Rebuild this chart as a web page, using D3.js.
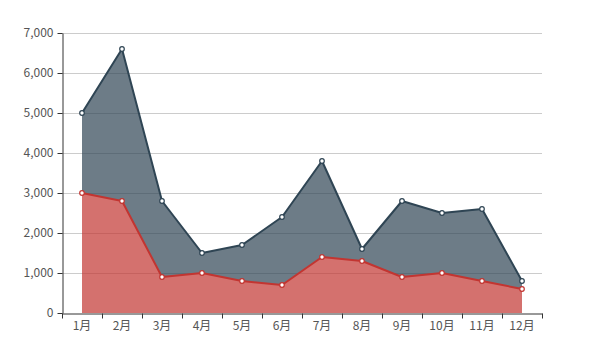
<!DOCTYPE html>
<html><head><meta charset="utf-8">
<script src="https://cdn.jsdelivr.net/npm/d3@7"></script>
<style>body{margin:0;background:#fff}svg{display:block}</style>
</head><body>
<svg id="c" width="608" height="358"></svg>
<script>
const months = ["1月","2月","3月","4月","5月","6月","7月","8月","9月","10月","11月","12月"];
const seriesA = [5000,6600,2800,1500,1700,2400,3800,1600,2800,2500,2600,800];
const seriesB = [3000,2800,900,1000,800,700,1400,1300,900,1000,800,600];
const yTicks = [0,1000,2000,3000,4000,5000,6000,7000];

const W=608,H=358, m={l:62,r:66,t:33,b:45};
const svg=d3.select("#c");
const font="'Microsoft YaHei','Noto Sans CJK SC',sans-serif";
const x=d3.scaleBand().domain(months).range([m.l,W-m.r]);
const y=d3.scaleLinear().domain([0,7000]).range([H-m.b,m.t]);
const cx=d=>x(d)+x.bandwidth()/2;

// grid
svg.append("g").selectAll("line").data(yTicks.slice(1)).join("line")
  .attr("x1",m.l).attr("x2",W-m.r).attr("y1",d=>Math.round(y(d))+0.5).attr("y2",d=>Math.round(y(d))+0.5)
  .attr("stroke","#ccc").attr("stroke-width",1);

const idx=d3.range(months.length);
const areaA=d3.area().x(i=>cx(months[i])).y0(i=>y(seriesB[i])).y1(i=>y(seriesA[i]));
const areaB=d3.area().x(i=>cx(months[i])).y0(y(0)).y1(i=>y(seriesB[i]));
svg.append("path").attr("d",areaA(idx)).attr("fill","#2f4554").attr("fill-opacity",0.7);
svg.append("path").attr("d",areaB(idx)).attr("fill","#c23531").attr("fill-opacity",0.7);

const lineA=d3.line().x(i=>cx(months[i])).y(i=>y(seriesA[i]));
const lineB=d3.line().x(i=>cx(months[i])).y(i=>y(seriesB[i]));
svg.append("path").attr("d",lineA(idx)).attr("fill","none").attr("stroke","#2f4554").attr("stroke-width",2).attr("stroke-linejoin","round");
svg.append("path").attr("d",lineB(idx)).attr("fill","none").attr("stroke","#c23531").attr("stroke-width",2).attr("stroke-linejoin","round");

svg.append("g").selectAll("circle").data(idx).join("circle")
  .attr("cx",i=>cx(months[i])).attr("cy",i=>y(seriesA[i])).attr("r",2.3)
  .attr("fill","#fff").attr("stroke","#2f4554").attr("stroke-width",1.2);
svg.append("g").selectAll("circle").data(idx).join("circle")
  .attr("cx",i=>cx(months[i])).attr("cy",i=>y(seriesB[i])).attr("r",2.3)
  .attr("fill","#fff").attr("stroke","#c23531").attr("stroke-width",1.2);

// y axis
const ya=svg.append("g").attr("transform",`translate(${m.l+0.5},0)`)
  .call(d3.axisLeft(y).tickValues(yTicks).tickFormat(d3.format(",")).tickSize(5).tickSizeOuter(0).tickPadding(4));
// x axis
const xa=svg.append("g").attr("transform",`translate(0,${H-m.b+0.5})`)
  .call(d3.axisBottom(x).tickSize(0).tickPadding(8));
xa.append("g").selectAll("line").data(d3.range(months.length+1)).join("line")
  .attr("x1",i=>m.l+i*x.step()+0.5).attr("x2",i=>m.l+i*x.step()+0.5).attr("y1",0).attr("y2",5)
  .attr("stroke","#333");
[ya,xa].forEach(g=>{
  g.select(".domain").attr("stroke","#333");
  g.selectAll(".tick line").attr("stroke","#333");
  g.selectAll("text").attr("fill","#555").style("font-family",font).style("font-size","12px");
});
</script>
</body></html>
